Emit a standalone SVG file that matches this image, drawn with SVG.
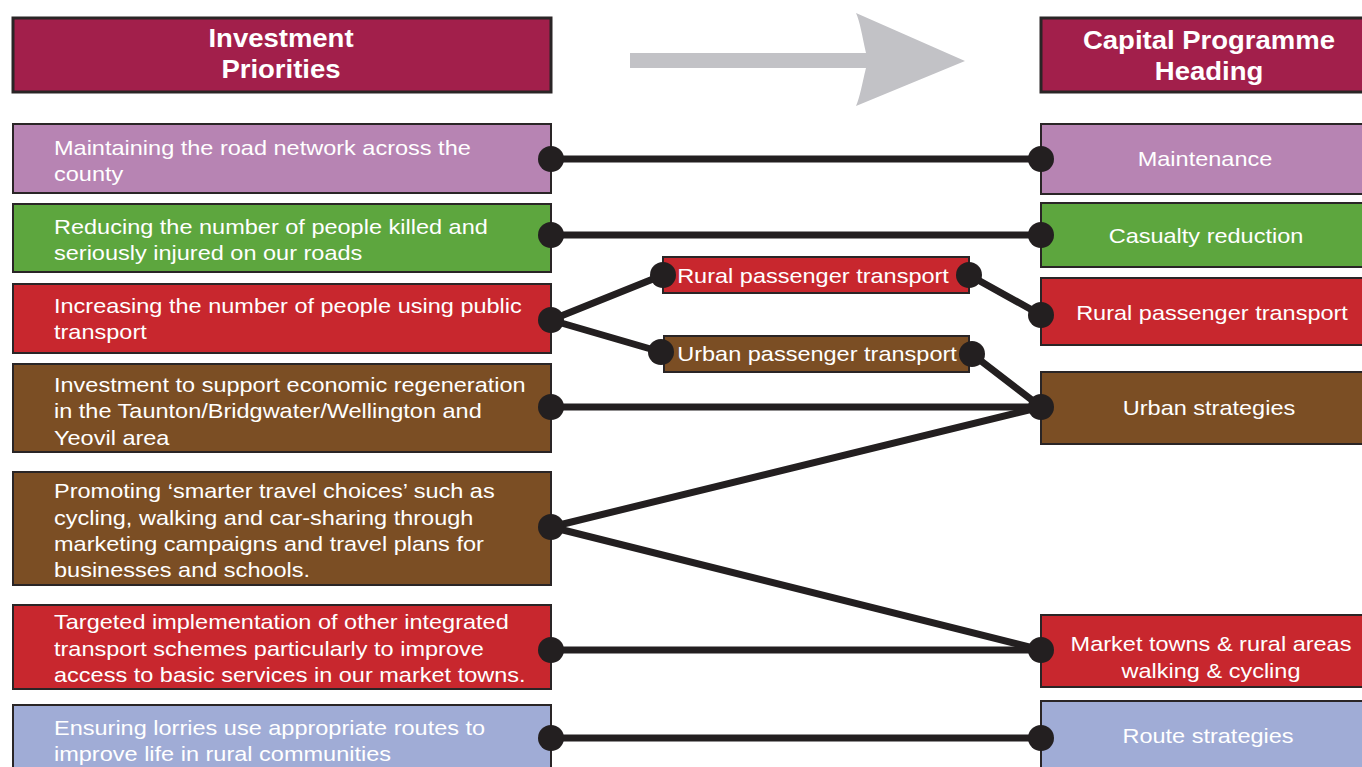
<svg xmlns="http://www.w3.org/2000/svg" width="1362" height="767" viewBox="0 0 1362 767">
<style>
text{font-family:"Liberation Sans",Arial,sans-serif;fill:#ffffff}
.h{font-size:25px;font-weight:bold;text-anchor:middle}
.t{font-size:21px}
.c{font-size:21px;text-anchor:middle}
.hb{fill:#a21f4b;stroke:#2a2526;stroke-width:3}
.b{stroke:#2a2526;stroke-width:2}
.pu{fill:#b784b3}.gr{fill:#5da63e}.rd{fill:#c8272e}.br{fill:#7b4e24}.bl{fill:#a0acd6}
.ln{stroke:#231f20;stroke-width:7;fill:none;stroke-linecap:round}
.dot{fill:#231f20}
</style>
<g id="arrow"><path d="M630,53 H866 C862,35 860,22 856,13 L965,61 L856,106 C860,97 862,84 866,68 H630 Z" fill="#c2c2c6"/></g>
<g id="header-left"><rect class="hb" x="13" y="18" width="538" height="74"/><g transform="translate(281 0) scale(1.1 1)"><text class="h" x="0" y="47">Investment</text><text class="h" x="0" y="78">Priorities</text></g></g>
<g id="header-right"><rect class="hb" x="1041" y="18" width="330" height="74"/><g transform="translate(1209 0) scale(1.1 1)"><text class="h" x="0" y="49">Capital Programme</text><text class="h" x="0" y="80">Heading</text></g></g>
<g id="p1"><rect class="b pu" x="13" y="124" width="538" height="69"/><g transform="translate(54 0) scale(1.12 1)"><text class="t" x="0" y="155">Maintaining the road network across the</text><text class="t" x="0" y="181">county</text></g></g>
<g id="p2"><rect class="b gr" x="13" y="204" width="538" height="68"/><g transform="translate(54 0) scale(1.12 1)"><text class="t" x="0" y="234">Reducing the number of people killed and</text><text class="t" x="0" y="260">seriously injured on our roads</text></g></g>
<g id="p3"><rect class="b rd" x="13" y="284" width="538" height="69"/><g transform="translate(54 0) scale(1.12 1)"><text class="t" x="0" y="313">Increasing the number of people using public</text><text class="t" x="0" y="339">transport</text></g></g>
<g id="p4"><rect class="b br" x="13" y="364" width="538" height="88"/><g transform="translate(54 0) scale(1.12 1)"><text class="t" x="0" y="392">Investment to support economic regeneration</text><text class="t" x="0" y="418">in the Taunton/Bridgwater/Wellington and</text><text class="t" x="0" y="445">Yeovil area</text></g></g>
<g id="p5"><rect class="b br" x="13" y="472" width="538" height="113"/><g transform="translate(54 0) scale(1.12 1)"><text class="t" x="0" y="498">Promoting ‘smarter travel choices’ such as</text><text class="t" x="0" y="525">cycling, walking and car-sharing through</text><text class="t" x="0" y="551">marketing campaigns and travel plans for</text><text class="t" x="0" y="577">businesses and schools.</text></g></g>
<g id="p6"><rect class="b rd" x="13" y="605" width="538" height="84"/><g transform="translate(54 0) scale(1.12 1)"><text class="t" x="0" y="629">Targeted implementation of other integrated</text><text class="t" x="0" y="656">transport schemes particularly to improve</text><text class="t" x="0" y="682">access to basic services in our market towns.</text></g></g>
<g id="p7"><rect class="b bl" x="13" y="705" width="538" height="70"/><g transform="translate(54 0) scale(1.12 1)"><text class="t" x="0" y="735">Ensuring lorries use appropriate routes to</text><text class="t" x="0" y="761">improve life in rural communities</text></g></g>
<g id="m1"><rect class="b rd" x="663" y="257" width="306" height="36"/><g transform="translate(813 0) scale(1.12 1)"><text class="c" x="0" y="283">Rural passenger transport</text></g></g>
<g id="m2"><rect class="b br" x="664" y="336" width="305" height="36"/><g transform="translate(817 0) scale(1.12 1)"><text class="c" x="0" y="361">Urban passenger transport</text></g></g>
<g id="c1"><rect class="b pu" x="1041" y="124" width="330" height="70"/><g transform="translate(1205 0) scale(1.12 1)"><text class="c" x="0" y="166">Maintenance</text></g></g>
<g id="c2"><rect class="b gr" x="1041" y="203" width="330" height="64"/><g transform="translate(1206 0) scale(1.12 1)"><text class="c" x="0" y="243">Casualty reduction</text></g></g>
<g id="c3"><rect class="b rd" x="1041" y="278" width="330" height="67"/><g transform="translate(1212 0) scale(1.12 1)"><text class="c" x="0" y="320">Rural passenger transport</text></g></g>
<g id="c4"><rect class="b br" x="1041" y="372" width="330" height="72"/><g transform="translate(1209 0) scale(1.12 1)"><text class="c" x="0" y="415">Urban strategies</text></g></g>
<g id="c5"><rect class="b rd" x="1041" y="615" width="330" height="72"/><g transform="translate(1211 0) scale(1.12 1)"><text class="c" x="0" y="651">Market towns &amp; rural areas</text><text class="c" x="0" y="678">walking &amp; cycling</text></g></g>
<g id="c6"><rect class="b bl" x="1041" y="701" width="330" height="76"/><g transform="translate(1208 0) scale(1.12 1)"><text class="c" x="0" y="743">Route strategies</text></g></g>
<g id="connectors">
<path class="ln" d="M551,159 H1041"/>
<path class="ln" d="M551,235 H1041"/>
<path class="ln" d="M551,320 L663,275"/>
<path class="ln" d="M551,320 L661,352"/>
<path class="ln" d="M969,275 L1041,315"/>
<path class="ln" d="M972,354 L1041,407"/>
<path class="ln" d="M551,407 H1041"/>
<path class="ln" d="M551,527 L1041,407"/>
<path class="ln" d="M551,527 L1041,650"/>
<path class="ln" d="M551,650 H1041"/>
<path class="ln" d="M551,738 H1041"/>
<g class="dot">
<circle cx="551" cy="159" r="13"/><circle cx="1041" cy="159" r="13"/>
<circle cx="551" cy="235" r="13"/><circle cx="1041" cy="235" r="13"/>
<circle cx="551" cy="320" r="13"/><circle cx="663" cy="275" r="13"/><circle cx="661" cy="352" r="13"/>
<circle cx="969" cy="275" r="13"/><circle cx="1041" cy="315" r="13"/>
<circle cx="972" cy="354" r="13"/><circle cx="1041" cy="407" r="13"/>
<circle cx="551" cy="407" r="13"/><circle cx="551" cy="527" r="13"/>
<circle cx="1041" cy="650" r="13"/><circle cx="551" cy="650" r="13"/>
<circle cx="551" cy="738" r="13"/><circle cx="1041" cy="738" r="13"/>
</g>
</g>
</svg>
